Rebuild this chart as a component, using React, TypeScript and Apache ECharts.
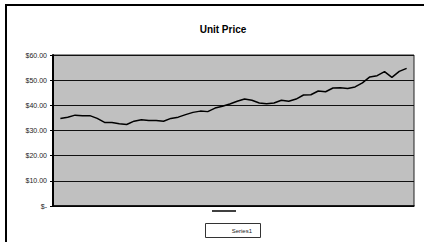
import React, { useEffect, useRef } from "react";
import * as echarts from "echarts";

const title = "Unit Price";
const seriesName = "Series1";
const yTicks = [0, 10, 20, 30, 40, 50, 60];
const yTickLabels = ["$-", "$10.00", "$20.00", "$30.00", "$40.00", "$50.00", "$60.00"];
const unitPrice = [
  34.8, 35.3, 36.1, 35.9, 35.9, 34.8, 33.2, 33.2, 32.7, 32.4,
  33.7, 34.3, 34.0, 34.0, 33.7, 34.8, 35.3, 36.3, 37.2, 37.7,
  37.5, 38.9, 39.6, 40.5, 41.6, 42.5, 42.0, 40.9, 40.6, 40.9,
  42.0, 41.6, 42.5, 44.1, 44.2, 45.7, 45.4, 46.9, 47.0, 46.7,
  47.3, 48.9, 51.3, 51.8, 53.4, 51.1, 53.5, 54.7,
];

export default function App() {
  const ref = useRef<HTMLDivElement>(null);
  useEffect(() => {
    if (!ref.current) return;
    const chart = echarts.init(ref.current, undefined, { renderer: "svg" });
    const font = "'Liberation Sans', Arial, sans-serif";
    chart.setOption({
      animation: false,
      backgroundColor: "#ffffff",
      title: {
        text: title,
        left: 218,
        top: 19,
        textAlign: "center",
        textStyle: { fontFamily: font, fontSize: 10, fontWeight: "bold", color: "#000" },
      },
      grid: {
        left: 53,
        right: 10,
        top: 55,
        bottom: 36,
        show: true,
        backgroundColor: "#c0c0c0",
        borderColor: "#222",
        borderWidth: 1,
      },
      xAxis: {
        type: "value",
        min: -1,
        max: unitPrice.length,
        axisLine: { show: true, onZero: false, lineStyle: { color: "#000", width: 1.5 } },
        axisTick: { show: false },
        axisLabel: { show: false },
        splitLine: { show: false },
      },
      yAxis: {
        type: "value",
        min: yTicks[0],
        max: yTicks[yTicks.length - 1],
        interval: 10,
        axisLine: { show: true, onZero: false, lineStyle: { color: "#000", width: 2 } },
        axisTick: { show: true, length: 3, lineStyle: { color: "#000" } },
        axisLabel: {
          fontFamily: font,
          fontSize: 7,
          color: "#222",
          margin: 6,
          formatter: (v: number) => yTickLabels[yTicks.indexOf(v)] ?? "",
        },
        splitLine: { show: true, lineStyle: { color: "#111", width: 1 } },
      },
      series: [
        {
          name: seriesName,
          type: "line",
          data: unitPrice.map((v, i) => [i, v]),
          symbol: "none",
          lineStyle: { color: "#000", width: 1.5 },
        },
      ],
      graphic: [
        {
          type: "rect",
          shape: { x: 6, y: 5, width: 440, height: 260 },
          style: { fill: "none", stroke: "#000", lineWidth: 2 },
          z: 100,
        },
        {
          type: "line",
          shape: { x1: 212, y1: 211, x2: 236, y2: 211 },
          style: { stroke: "#000", lineWidth: 1.5 },
        },
        {
          type: "rect",
          shape: { x: 205.5, y: 223.5, width: 55, height: 14 },
          style: { fill: "#fff", stroke: "#333", lineWidth: 1 },
        },
        {
          type: "text",
          x: 252,
          y: 230.5,
          style: {
            text: seriesName,
            fontFamily: font,
            fontSize: 6,
            fill: "#222",
            align: "right",
            verticalAlign: "middle",
          },
        },
      ],
    });
    return () => chart.dispose();
  }, []);
  return <div ref={ref} style={{ width: 424, height: 242, position: "absolute", left: 0, top: 0 }} />;
}
